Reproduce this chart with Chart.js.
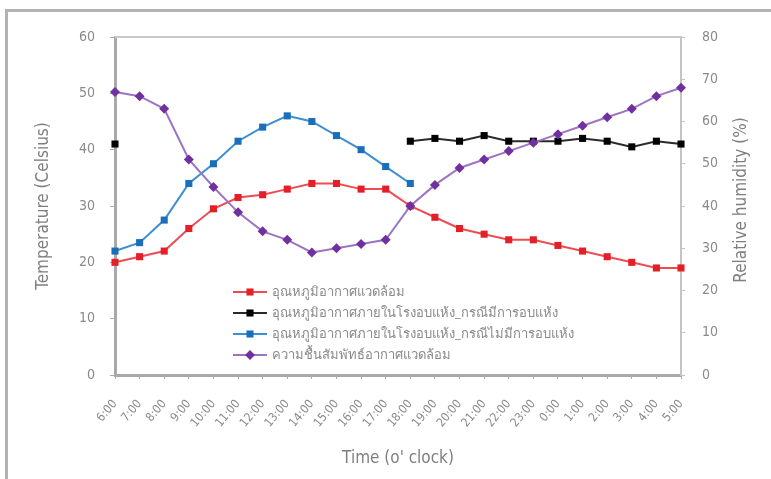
<!DOCTYPE html>
<html>
<head>
<meta charset="utf-8">
<script src="https://cdn.jsdelivr.net/npm/chart.js@4.4.1/dist/chart.umd.min.js"></script>
<style>
  html, body { margin: 0; padding: 0; background: #fff; }
  #wrap { position: relative; width: 771px; height: 479px; overflow: hidden; }
  #frame { position: absolute; left: 5px; top: 9px; right: -10px; bottom: -10px;
           border-left: 3px solid #b4b2b2; border-top: 3px solid #b4b2b2; }
  canvas { position: absolute; left: 0; top: 0; }
</style>
</head>
<body>
<div id="wrap">
  <div id="frame"></div>
  <canvas id="chart" width="771" height="479"></canvas>
</div>
<script>
// Time of day (x axis)
const hours = [
  "6:00", "7:00", "8:00", "9:00", "10:00", "11:00", "12:00", "13:00",
  "14:00", "15:00", "16:00", "17:00", "18:00", "19:00", "20:00", "21:00",
  "22:00", "23:00", "0:00", "1:00", "2:00", "3:00", "4:00", "5:00",
];

// Temperature series (Celsius)
const ambientTemp = [20, 21, 22, 26, 29.5, 31.5, 32, 33, 34, 34, 33, 33, 30, 28, 26, 25, 24, 24, 23, 22, 21, 20, 19, 19];
const dryerTempLoaded = [41, null, null, null, null, null, null, null, null, null, null, null,
  41.5, 42, 41.5, 42.5, 41.5, 41.5, 41.5, 42, 41.5, 40.5, 41.5, 41];
const dryerTempEmpty = [22, 23.5, 27.5, 34, 37.5, 41.5, 44, 46, 45, 42.5, 40, 37, 34,
  null, null, null, null, null, null, null, null, null, null, null];

// Relative humidity (%)
const ambientHumidity = [67, 66, 63, 51, 44.5, 38.5, 34, 32, 29, 30, 31, 32, 40, 45, 49, 51, 53, 55, 57, 59, 61, 63, 66, 68];

// Tick labels
const tempTicks = [0, 10, 20, 30, 40, 50, 60];
const humidityTicks = [0, 10, 20, 30, 40, 50, 60, 70, 80];

// Legend labels
const seriesNames = [
  "อุณหภูมิอากาศแวดล้อม",
  "อุณหภูมิอากาศภายในโรงอบแห้ง_กรณีมีการอบแห้ง",
  "อุณหภูมิอากาศภายในโรงอบแห้ง_กรณีไม่มีการอบแห้ง",
  "ความชื้นสัมพัทธ์อากาศแวดล้อม",
];

const narrowFont = "'Liberation Sans Narrow', 'DejaVu Sans Condensed', 'Liberation Sans', sans-serif";
const axisGrey = "#a9a9a9";
const textGrey = "#8a8a8a";

// draw one legend marker (square or diamond)
const drawMarker = (ctx, style, x, y, r, color) => {
  ctx.fillStyle = color;
  ctx.beginPath();
  if (style === "rectRot") {
    ctx.moveTo(x, y - r);
    ctx.lineTo(x + r, y);
    ctx.lineTo(x, y + r);
    ctx.lineTo(x - r, y);
    ctx.closePath();
  } else {
    const s = r * Math.SQRT1_2;
    ctx.rect(x - s, y - s, 2 * s, 2 * s);
  }
  ctx.fill();
};

// legend inside the plot + right axis title + top border
const extrasPlugin = {
  id: "extras",
  afterDraw(chart) {
    const { ctx, chartArea } = chart;
    ctx.save();

    // top border of plot area
    ctx.strokeStyle = "#c9c9c9";
    ctx.lineWidth = 2;
    ctx.beginPath();
    ctx.moveTo(chartArea.left, chartArea.top);
    ctx.lineTo(chartArea.right, chartArea.top);
    ctx.stroke();

    // legend
    const lx = 233, ly = 292, gap = 21;
    chart.data.datasets.forEach((ds, i) => {
      const y = ly + i * gap;
      ctx.strokeStyle = ds.borderColor;
      ctx.lineWidth = 2;
      ctx.beginPath();
      ctx.moveTo(lx, y);
      ctx.lineTo(lx + 34, y);
      ctx.stroke();
      drawMarker(ctx, ds.pointStyle, lx + 17, y, ds.pointRadius, ds.pointBackgroundColor);
      ctx.fillStyle = textGrey;
      ctx.font = "13px 'Noto Sans', sans-serif";
      ctx.textAlign = "left";
      ctx.textBaseline = "middle";
      ctx.fillText(ds.label, lx + 39, y);
    });

    // right axis title, reads bottom to top
    ctx.translate(742, 200);
    ctx.rotate(-Math.PI / 2);
    ctx.fillStyle = "#7f7f7f";
    ctx.font = "17px " + narrowFont;
    ctx.textAlign = "center";
    ctx.textBaseline = "middle";
    ctx.fillText("Relative humidity (%)", 0, 0);
    ctx.restore();
  },
};

new Chart(document.getElementById("chart"), {
  type: "line",
  data: {
    labels: hours,
    datasets: [
      {
        label: seriesNames[0],
        data: ambientTemp,
        yAxisID: "y",
        borderColor: "#ee4c52",
        pointBackgroundColor: "#e41f27",
        pointStyle: "rect",
        pointRadius: 5,
        order: 1,
      },
      {
        label: seriesNames[1],
        data: dryerTempLoaded,
        yAxisID: "y",
        borderColor: "#2a2a2a",
        pointBackgroundColor: "#000000",
        pointStyle: "rect",
        pointRadius: 5,
        order: 2,
      },
      {
        label: seriesNames[2],
        data: dryerTempEmpty,
        yAxisID: "y",
        borderColor: "#3c8fd4",
        pointBackgroundColor: "#1a6fba",
        pointStyle: "rect",
        pointRadius: 5,
        order: 3,
      },
      {
        label: seriesNames[3],
        data: ambientHumidity,
        yAxisID: "y1",
        borderColor: "#9d74c3",
        pointBackgroundColor: "#7030a0",
        pointStyle: "rectRot",
        pointRadius: 5,
        order: 0,
      },
    ],
  },
  options: {
    responsive: false,
    animation: false,
    devicePixelRatio: 1,
    spanGaps: false,
    layout: { padding: { left: 0, top: 37, right: 0, bottom: 0 } },
    elements: {
      line: { borderWidth: 2, tension: 0 },
      point: { borderWidth: 0, hoverRadius: 5 },
    },
    plugins: {
      legend: { display: false },
      tooltip: { enabled: false },
    },
    scales: {
      x: {
        offset: false,
        afterFit: (scale) => { scale.height = 104; },
        grid: { drawOnChartArea: false, tickLength: 4, color: axisGrey },
        border: { color: axisGrey, width: 3 },
        ticks: {
          autoSkip: false,
          minRotation: 50,
          maxRotation: 50,
          padding: 18,
          color: textGrey,
          font: { size: 12, family: narrowFont },
        },
        title: {
          display: true,
          text: "Time (o' clock)",
          color: "#7f7f7f",
          font: { size: 17, family: narrowFont },
          padding: { top: 0, bottom: 10 },
        },
      },
      y: {
        position: "left",
        min: 0,
        max: 60,
        afterFit: (scale) => { scale.width = 115; },
        afterBuildTicks: (scale) => { scale.ticks = tempTicks.map((v) => ({ value: v })); },
        grid: { drawOnChartArea: false, tickLength: 5, color: axisGrey },
        border: { color: axisGrey, width: 3 },
        ticks: {
          padding: 15,
          color: textGrey,
          font: { size: 14, family: narrowFont },
        },
        title: {
          display: true,
          text: "Temperature (Celsius)",
          color: "#7f7f7f",
          font: { size: 17, family: narrowFont },
          padding: { top: 33, bottom: 0 },
        },
      },
      y1: {
        position: "right",
        min: 0,
        max: 80,
        afterFit: (scale) => { scale.width = 90; },
        afterBuildTicks: (scale) => { scale.ticks = humidityTicks.map((v) => ({ value: v })); },
        grid: { drawOnChartArea: false, tickLength: 4, color: "#c4c4c4" },
        border: { color: "#c4c4c4", width: 2 },
        ticks: {
          padding: 17,
          color: textGrey,
          font: { size: 14, family: narrowFont },
        },
      },
    },
  },
  plugins: [extrasPlugin],
});
</script>
</body>
</html>
